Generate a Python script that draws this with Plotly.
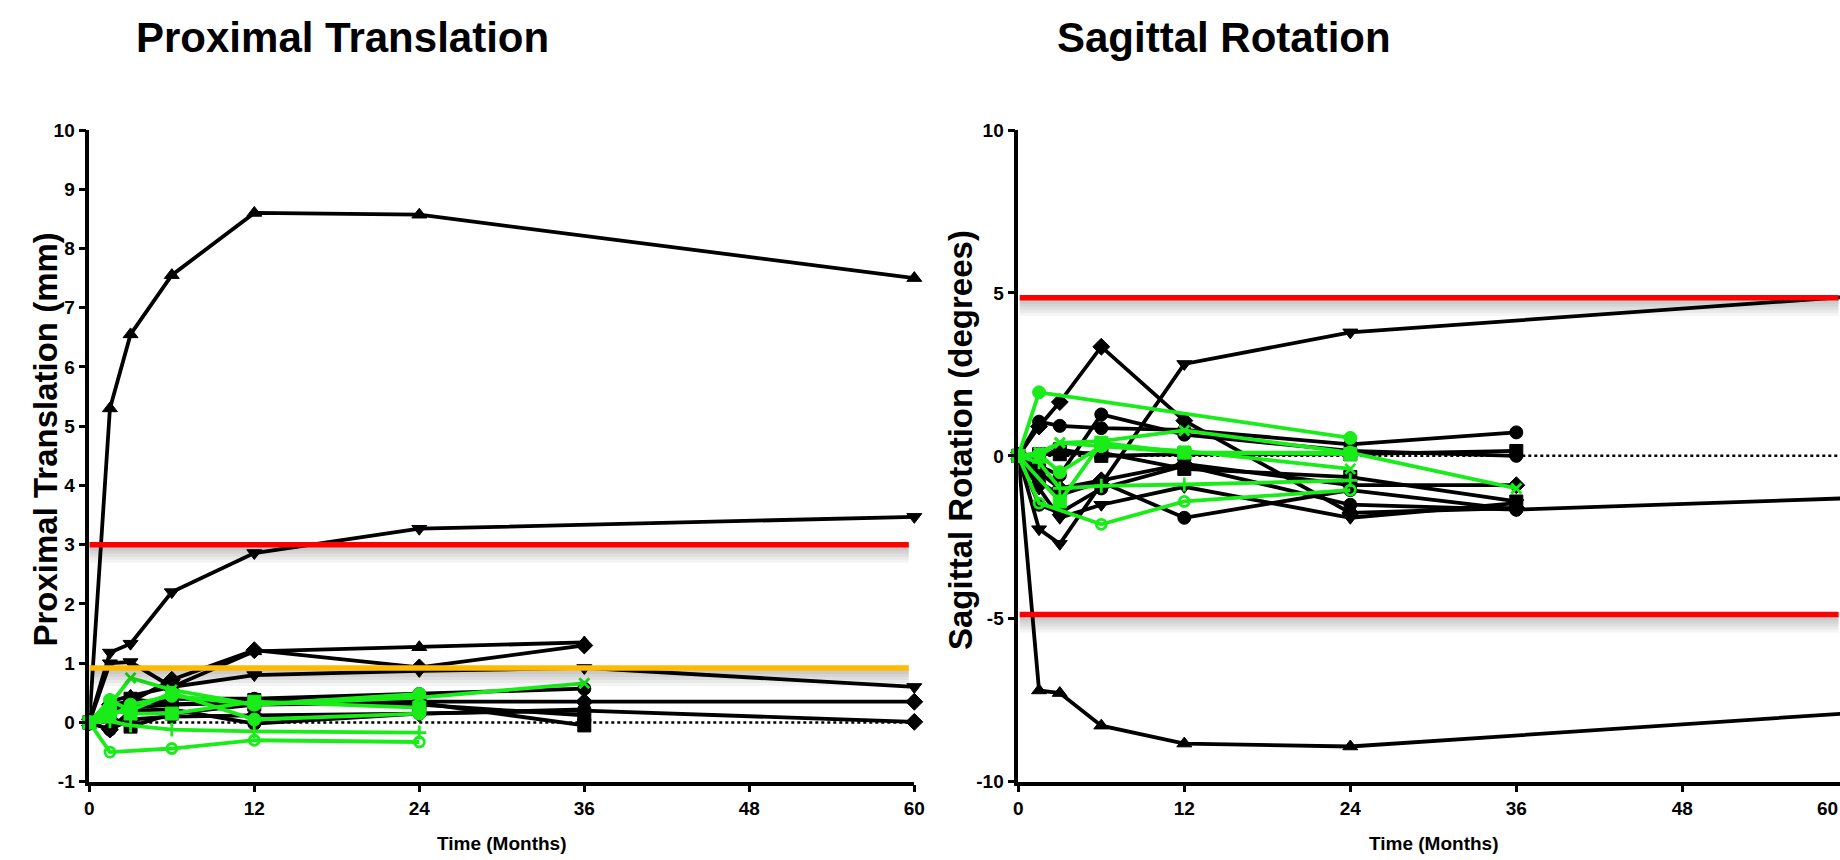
import plotly.graph_objects as go

W, H = 1840, 860

months = [0, 1.5, 3, 6, 12, 24, 36, 60]
x_ticks = [0, 12, 24, 36, 48, 60]
left_y_ticks = [-1, 0, 1, 2, 3, 4, 5, 6, 7, 8, 9, 10]
right_y_ticks = [-10, -5, 0, 5, 10]

# ---- Proximal Translation (mm) ----
pt_a = [0, 5.3, 6.55, 7.55, 8.6, 8.57, None, 7.5]
pt_b = [0, 1.18, 1.33, 2.2, 2.86, 3.27, None, 3.47]
pt_c = [0, 0.35, 0.45, 0.6, 1.2, 1.27, 1.35]
pt_d = [0, 0.3, 0.35, 0.72, 1.22, 0.93, 1.3]
pt_e = [0, 1.0, 1.02, 0.6, 0.8, 0.87, 0.92, 0.6]
pt_f = [0, 0.2, 0.25, 0.3, 0.33, 0.35, 0.35, 0.35]
pt_g = [0, -0.12, 0.05, 0.1, 0.12, 0.15, 0.2, 0.01]
pt_h = [0, 0.1, -0.07, 0.15, 0.3, 0.33, -0.05]
pt_i = [0, 0.25, 0.3, 0.4, 0.4, 0.48, 0.57]
pt_j = [0, -0.12, 0.2, 0.22, -0.02, 0.15, 0.22]
pt_k = [0, 0.15, 0.4, 0.3, 0.38, 0.3, 0.12]
pt_green_1 = [0, 0.3, 0.75, 0.55, 0.3, 0.42, 0.66]
pt_green_2 = [0, -0.5, None, -0.44, -0.3, -0.33]
pt_green_3 = [0, 0.02, -0.05, -0.12, -0.15, -0.17]
pt_green_4 = [0, 0.38, 0.2, 0.5, 0.05, 0.15]
pt_green_5 = [0, 0.2, 0.15, 0.15, 0.35, 0.25]
pt_green_6 = [0, 0.1, 0.3, 0.45, 0.3, 0.48]
pt_red_limit = [3.0]
pt_orange_limit = [0.92]

# ---- Sagittal Rotation (degrees) ----
sr_a = [0, -7.2, -7.28, -8.28, -8.83, -8.92, None, -7.9]
sr_b = [0, -2.25, -2.7, None, 2.82, 3.79, None, 4.88]
sr_c = [0, 0.9, 1.65, 3.35, 1.08, -1.75, -1.6]
sr_d = [0, 1.05, 0.92, 0.85, 0.8, 0.35, 0.72]
sr_e = [0, -0.3, -0.6, 1.27, 0.65, 0.15, 0.0]
sr_f = [0, -0.8, -1.2, -0.8, -1.9, -1.05, -1.65]
sr_g = [0, 0.05, 0.05, 0.1, -0.4, -0.65, -1.4]
sr_h = [0, 0.0, 0.2, 0.0, 0.05, 0.05, 0.15]
sr_i = [0, -0.5, -1.0, -0.75, -0.25, -0.9, -0.9]
sr_j = [0, -1.0, -1.9, -1.5, -0.95, -1.9, -1.45]
sr_k = [0, -1.5, -1.75, -1.0, -0.3, -1.5, -1.65, -1.3]
sr_green_1 = [0, 1.95, None, None, None, 0.55]
sr_green_2 = [0, 0.1, 0.4, 0.45, 0.78, 0.1, -1.0]
sr_green_3 = [0, -1.45, None, -2.1, -1.4, -1.05]
sr_green_4 = [0, -0.2, -1.0, -0.92, -0.88, -0.75]
sr_green_5 = [0, 0.05, -0.5, 0.3, 0.1, 0.1]
sr_green_6 = [0, 0.0, 0.4, 0.3, 0.15, -0.4]
sr_green_7 = [0, None, -1.4, 0.4, 0.1, 0.05]
sr_red_limits = [4.85, -4.87]

BLACK = "#000000"
GREEN = "#19ec19"

left_series = [
    (pt_a, BLACK, "triangle-up"), (pt_b, BLACK, "triangle-down"),
    (pt_c, BLACK, "triangle-up"), (pt_d, BLACK, "diamond"),
    (pt_e, BLACK, "triangle-down"), (pt_f, BLACK, "diamond"),
    (pt_g, BLACK, "diamond"), (pt_h, BLACK, "square"),
    (pt_i, BLACK, "circle"), (pt_j, BLACK, "circle"), (pt_k, BLACK, "square"),
    (pt_green_1, GREEN, "x-thin"), (pt_green_2, GREEN, "circle-open"),
    (pt_green_3, GREEN, "cross-thin"), (pt_green_4, GREEN, "circle"),
    (pt_green_5, GREEN, "square"), (pt_green_6, GREEN, "circle"),
]
right_series = [
    (sr_a, BLACK, "triangle-up"), (sr_b, BLACK, "triangle-down"),
    (sr_c, BLACK, "diamond"), (sr_d, BLACK, "circle"), (sr_e, BLACK, "circle"),
    (sr_f, BLACK, "circle"), (sr_g, BLACK, "square"), (sr_h, BLACK, "square"),
    (sr_i, BLACK, "diamond"), (sr_j, BLACK, "triangle-down"), (sr_k, BLACK, "circle"),
    (sr_green_1, GREEN, "circle"), (sr_green_2, GREEN, "x-thin"),
    (sr_green_3, GREEN, "circle-open"), (sr_green_4, GREEN, "cross-thin"),
    (sr_green_5, GREEN, "circle"), (sr_green_6, GREEN, "x-thin"),
    (sr_green_7, GREEN, "square"),
]

fig = go.Figure()


def add_series(series, xa, ya):
    for vals, color, sym in series:
        open_sym = sym in ("circle-open", "x-thin", "cross-thin")
        fig.add_trace(go.Scatter(
            x=months[:len(vals)], y=vals, xaxis=xa, yaxis=ya,
            mode="lines+markers", connectgaps=True, showlegend=False,
            line=dict(color=color, width=3.8),
            marker=dict(symbol=sym, size=10 if open_sym else 13, color=color,
                        line=dict(color=color, width=2.8 if open_sym else 1)),
            cliponaxis=False,
        ))


# dotted zero lines
fig.add_trace(go.Scatter(x=[0, 60], y=[0, 0], xaxis="x", yaxis="y", mode="lines",
                         line=dict(color="black", width=2.5, dash="dot"), showlegend=False))
fig.add_trace(go.Scatter(x=[0, 60], y=[0, 0], xaxis="x2", yaxis="y2", mode="lines",
                         line=dict(color="black", width=2.5, dash="dot"), showlegend=False))

add_series(left_series, "x", "y")
add_series(right_series, "x2", "y2")

shapes = []


def limit_line(xr, yr, x0, x1, yv, color):
    for h in (4, 7, 10, 13, 16):
        shapes.append(dict(type="rect", xref=xr, yref=yr, x0=x0, x1=x1,
                           ysizemode="pixel", yanchor=yv, y0=-2, y1=-2 - h,
                           fillcolor="rgba(0,0,0,0.045)", line=dict(width=0),
                           layer="above"))
    shapes.append(dict(type="line", xref=xr, yref=yr, x0=x0, x1=x1, y0=yv, y1=yv,
                       line=dict(color=color, width=5.5), layer="above"))


limit_line("x", "y", 0, 59.6, pt_red_limit[0], "#ff0000")
limit_line("x", "y", 0, 59.6, pt_orange_limit[0], "#ffbb00")
for v in sr_red_limits:
    limit_line("x2", "y2", 0.1, 59.3, v, "#ff0000")

FONT = "Liberation Sans, Arial, sans-serif"
tick_font = dict(family=FONT, size=19, color="black", weight="bold")
axis_common = dict(showline=True, linecolor="black", linewidth=3.5, ticks="outside",
                   ticklen=7, tickwidth=3, tickcolor="black", showgrid=False,
                   zeroline=False, tickfont=tick_font, automargin=False, mirror=False)

x_left = (89.3 / W, 914.3 / W)
x_right = (1018.3 / W, 1.0)
y_dom = ((H - 781.7) / H, (H - 130) / H)
right_range_end = (W - 1018.3) / (830.0 / 60)

fig.update_layout(
    width=W, height=H, plot_bgcolor="white", paper_bgcolor="white",
    margin=dict(l=0, r=0, t=0, b=0), showlegend=False,
    xaxis=dict(domain=list(x_left), range=[0, 60], tickvals=x_ticks, anchor="y", **axis_common),
    yaxis=dict(domain=list(y_dom), range=[-1, 10], tickvals=left_y_ticks,
               ticktext=[str(v) for v in left_y_ticks], anchor="x", **axis_common),
    xaxis2=dict(domain=list(x_right), range=[0, right_range_end], tickvals=x_ticks, anchor="y2", **axis_common),
    yaxis2=dict(domain=list(y_dom), range=[-10, 10], tickvals=right_y_ticks,
                ticktext=[str(v) for v in right_y_ticks], anchor="x2", **axis_common),
    shapes=shapes,
)

title_font = dict(family=FONT, size=42, color="black", weight="bold")
ytitle_font = dict(family=FONT, size=33, color="black", weight="bold")
xtitle_font = dict(family=FONT, size=19, color="black", weight="bold")

annotations = [
    dict(text="Proximal Translation", x=342 / W, y=(H - 37) / H, font=title_font),
    dict(text="Sagittal Rotation", x=1224 / W, y=(H - 37) / H, font=title_font),
    dict(text="Proximal Translation (mm)", x=44.6 / W, y=(H - 440) / H, textangle=-90, font=ytitle_font),
    dict(text="Sagittal Rotation (degrees)", x=960 / W, y=(H - 440) / H, textangle=-90, font=ytitle_font),
    dict(text="Time (Months)", x=502 / W, y=(H - 843) / H, font=xtitle_font),
    dict(text="Time (Months)", x=1433 / W, y=(H - 843) / H, font=xtitle_font),
    dict(text="60", x=1.0, y=(H - 808) / H, font=tick_font, xanchor="right"),
]
for a in annotations:
    a.setdefault("xanchor", "center")
    a.update(xref="paper", yref="paper", showarrow=False, yanchor="middle")
fig.update_layout(annotations=annotations)

fig.write_html("out.html", config={"displayModeBar": False},
               post_script="document.body.style.margin='0px';document.body.style.padding='0px';")
